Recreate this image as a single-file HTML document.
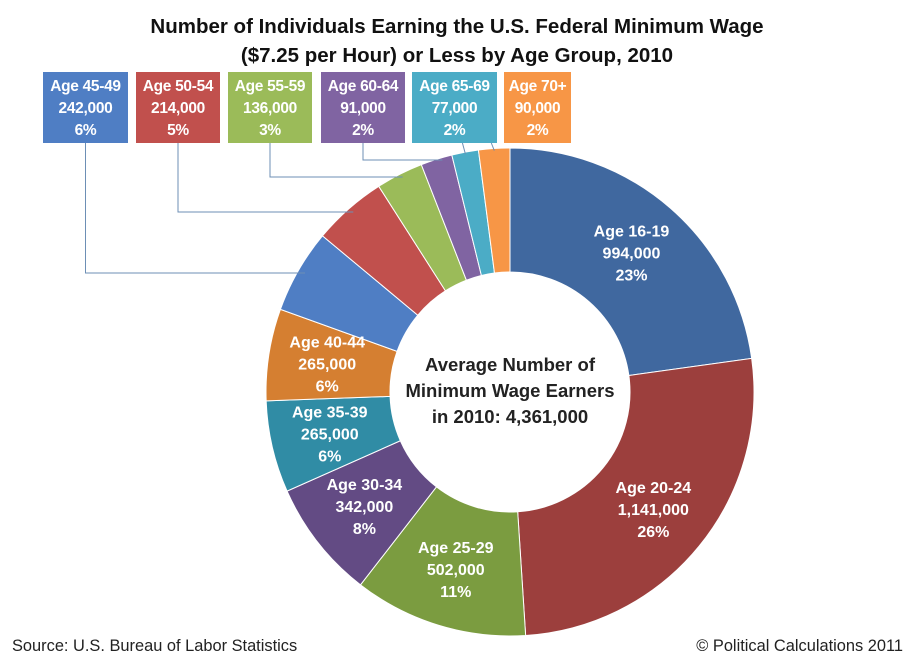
<!DOCTYPE html>
<html><head><meta charset="utf-8">
<style>
body{margin:0;background:#fff;}
#wrap{position:relative;width:915px;height:663px;overflow:hidden;font-family:"Liberation Sans",sans-serif;}
svg text{font-family:"Liberation Sans",sans-serif;}
</style></head>
<body>
<div id="wrap">
<svg id="chart" width="915" height="663">
<text x="457" y="33" text-anchor="middle" font-size="20.5" font-weight="bold" fill="#111">Number of Individuals Earning the U.S. Federal Minimum Wage</text>
<text x="457" y="62" text-anchor="middle" font-size="20.5" font-weight="bold" fill="#111">($7.25 per Hour) or Less by Age Group, 2010</text>
<text x="510" y="371" text-anchor="middle" font-size="18.5" font-weight="bold" fill="#222">Average Number of</text>
<text x="510" y="397" text-anchor="middle" font-size="18.5" font-weight="bold" fill="#222">Minimum Wage Earners</text>
<text x="510" y="423" text-anchor="middle" font-size="18.5" font-weight="bold" fill="#222">in 2010: 4,361,000</text>
<text x="12" y="651" font-size="16.4" fill="#222">Source: U.S. Bureau of Labor Statistics</text>
<text x="903" y="651" text-anchor="end" font-size="16.4" fill="#222">© Political Calculations 2011</text>
</svg>
</div>
<script>
const categories=["Age 16-19","Age 20-24","Age 25-29","Age 30-34","Age 35-39","Age 40-44","Age 45-49","Age 50-54","Age 55-59","Age 60-64","Age 65-69","Age 70+"];
const values=[994000,1141000,502000,342000,265000,265000,242000,214000,136000,91000,77000,90000];
const valueLabels=["994,000","1,141,000","502,000","342,000","265,000","265,000","242,000","214,000","136,000","91,000","77,000","90,000"];
const pctLabels=["23%","26%","11%","8%","6%","6%","6%","5%","3%","2%","2%","2%"];
const colors=["#40689f","#9c3f3d","#7b9c40","#634b84","#308ca5","#d57f31","#4f7ec4","#c1504d","#9bbb59","#8064a2","#4bacc6","#f79646"];
const svg=document.getElementById('chart');
const NS="http://www.w3.org/2000/svg";
const cx=510,cy=392,R=244,r=120;
const total=values.reduce((a,b)=>a+b,0);
function pt(a,rad){return [cx+rad*Math.sin(a),cy-rad*Math.cos(a)];}
function mk(t,attrs){const e=document.createElementNS(NS,t);for(const k in attrs)e.setAttribute(k,attrs[k]);return e;}
const g=mk('g',{});svg.insertBefore(g,svg.children[2]);
let acc=0;const mids=[];
values.forEach((v,i)=>{
 const a0=acc/total*2*Math.PI;acc+=v;const a1=acc/total*2*Math.PI;
 mids.push((a0+a1)/2);
 const large=(a1-a0)>Math.PI?1:0;
 const [x0,y0]=pt(a0,R),[x1,y1]=pt(a1,R),[x2,y2]=pt(a1,r),[x3,y3]=pt(a0,r);
 const p=mk('path',{d:`M${x0},${y0}A${R},${R} 0 ${large} 1 ${x1},${y1}L${x2},${y2}A${r},${r} 0 ${large} 0 ${x3},${y3}Z`,fill:colors[i],stroke:'#fff','stroke-width':1});
 
 
 g.appendChild(p);
});
for(let i=0;i<6;i++){
 const [x,y]=pt(mids[i],185);
 [categories[i],valueLabels[i],pctLabels[i]].forEach((s,k)=>{
  const t=mk('text',{x:x,y:y-22+k*22+6,'text-anchor':'middle','font-size':16,'font-weight':'bold',fill:'#fff'});
  t.textContent=s;
  
  
  g.appendChild(t);
 });
}
const boxX=[43,136,228,321,412,504];
const boxW=[85,84,84,84,85,67];
const lineY=[273,212,177,160,null,null];
for(let j=0;j<6;j++){
 const i=6+j;
 const bx=boxX[j],bw=boxW[j],bcx=bx+bw/2;
 if(lineY[j]!==null){
  const yy=lineY[j];
  const dy=cy-yy;
  const xa=cx-Math.sqrt(Math.max(R*R-dy*dy,0));
  const pl=mk('polyline',{points:`${bcx},143 ${bcx},${yy} ${xa+8},${yy}`,fill:'none',stroke:'#6d8fb5','stroke-width':1});
  
  
  svg.appendChild(pl);
 } else {
  const [ex,ey]=pt(mids[i],R-2);
  const pl=mk('line',{x1:ex-3,y1:143,x2:ex,y2:ey,stroke:'#6d8fb5','stroke-width':1});
  
  
  svg.appendChild(pl);
 }
 const rc=mk('rect',{x:bx,y:72,width:bw,height:71,fill:colors[i]});
 
 
 svg.appendChild(rc);
 [categories[i],valueLabels[i],pctLabels[i]].forEach((s,k)=>{
  const t=mk('text',{x:bcx,y:91+k*22,'text-anchor':'middle','font-size':15.5,'font-weight':'bold',fill:'#fff','letter-spacing':'-0.3'});
  t.textContent=s;
  
  
  svg.appendChild(t);
 });
}
</script>
</body></html>
